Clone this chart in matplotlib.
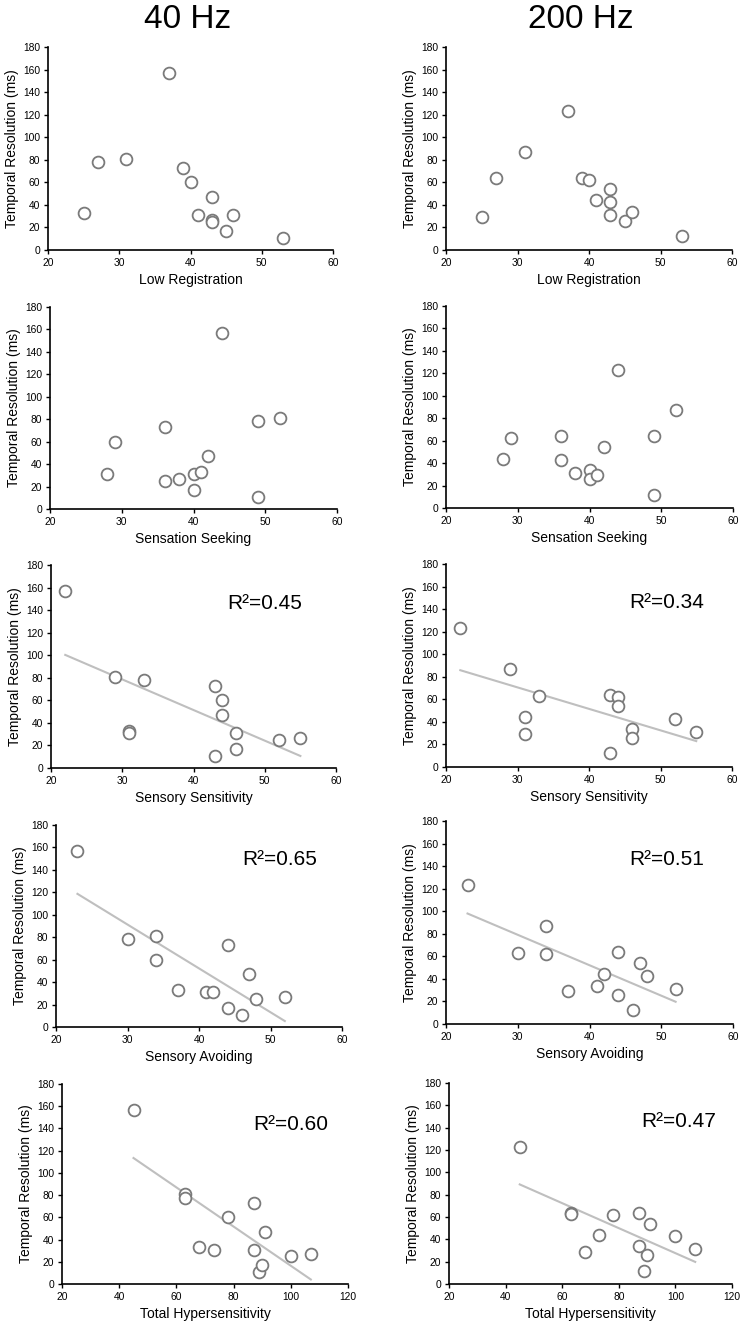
import matplotlib
matplotlib.use("Agg")
import matplotlib.pyplot as plt
import numpy as np

plt.rcParams['font.family'] = ['Liberation Sans', 'DejaVu Sans']

# --- data (x = questionnaire score, y = temporal resolution ms)
lowreg_x   = [25, 27, 31, 37, 39, 40, 41, 43, 43, 43, 45, 46, 53]
lowreg_40  = [33, 78, 81, 157, 73, 60, 31, 47, 27, 25, 17, 31, 11]
lowreg_200 = [29, 64, 87, 123, 64, 62, 44, 54, 43, 31, 26, 34, 12]

seek_x   = [28, 29, 36, 36, 38, 40, 40, 41, 42, 44, 49, 49, 52]
seek_40  = [31, 60, 73, 25, 27, 31, 17, 33, 47, 157, 78, 11, 81]
seek_200 = [44, 62, 64, 43, 31, 34, 26, 29, 54, 123, 64, 12, 87]

sens_x   = [22, 29, 31, 31, 33, 43, 43, 44, 44, 46, 46, 52, 55]
sens_40  = [157, 81, 33, 31, 78, 73, 11, 60, 47, 31, 17, 25, 27]
sens_200 = [123, 87, 44, 29, 63, 64, 12, 62, 54, 34, 26, 43, 31]

avoid_x   = [23, 30, 34, 34, 37, 41, 42, 44, 44, 46, 47, 48, 52]
avoid_40  = [157, 78, 81, 60, 33, 31, 31, 73, 17, 11, 47, 25, 27]
avoid_200 = [123, 63, 87, 62, 29, 34, 44, 64, 26, 12, 54, 43, 31]

hyper_x   = [45, 63, 63, 68, 73, 78, 87, 87, 89, 90, 91, 100, 107]
hyper_40  = [157, 81, 77, 33, 31, 60, 73, 31, 11, 17, 47, 25, 27]
hyper_200 = [123, 64, 63, 29, 44, 62, 64, 34, 12, 26, 54, 43, 31]

row_labels = ['Low Registration', 'Sensation Seeking', 'Sensory Sensitivity',
              'Sensory Avoiding', 'Total Hypersensitivity']
r2_40  = [None, None, '0.45', '0.65', '0.60']
r2_200 = [None, None, '0.34', '0.51', '0.47']

rows = [
    (lowreg_x, lowreg_40, lowreg_200),
    (seek_x, seek_40, seek_200),
    (sens_x, sens_40, sens_200),
    (avoid_x, avoid_40, avoid_200),
    (hyper_x, hyper_40, hyper_200),
]

W, H = 743, 1328
fig = plt.figure(figsize=(W / 100, H / 100), dpi=100)

# axes boxes in pixels: (left, right, top, bottom)
boxes = [
    [(48, 333, 47, 250), (446, 732, 47, 250)],
    [(50, 337, 307, 509), (446, 733, 306, 508)],
    [(51, 336, 565, 768), (446, 732, 564, 767)],
    [(56, 342, 825, 1027), (446, 733, 821, 1024)],
    [(62, 348, 1084, 1284), (449, 732, 1083, 1284)],
]
r2_pos = [
    [None, None],
    [None, None],
    [(0.62, 0.81), (0.64, 0.81)],
    [(0.65, 0.83), (0.64, 0.81)],
    [(0.67, 0.80), (0.68, 0.81)],
]

for i, (x, y40, y200) in enumerate(rows):
    for j, y in enumerate([y40, y200]):
        l, r, t, b = boxes[i][j]
        ax = fig.add_axes([l / W, 1 - b / H, (r - l) / W, (b - t) / H])
        ax.scatter(x, y, s=72, facecolors='white', edgecolors='#7a7a7a',
                   linewidths=1.3, zorder=3, clip_on=False)
        r2 = (r2_40 if j == 0 else r2_200)[i]
        if r2 is not None:
            k, c = np.polyfit(x, y, 1)
            xs = np.array([min(x), max(x)])
            ax.plot(xs, k * xs + c, color='#bfbfbf', lw=1.5, zorder=2)
            px, py = r2_pos[i][j]
            ax.text(px, py, 'R\u00b2=' + r2, transform=ax.transAxes,
                    fontsize=15, va='center', ha='left')
        if i == 4:
            ax.set_xlim(20, 120)
            ax.set_xticks(range(20, 121, 20))
        else:
            ax.set_xlim(20, 60)
            ax.set_xticks(range(20, 61, 10))
        ax.set_ylim(0, 180)
        ax.set_yticks(range(0, 181, 20))
        for s in ['top', 'right']:
            ax.spines[s].set_visible(False)
        for s in ['left', 'bottom']:
            ax.spines[s].set_linewidth(1.2)
        ax.tick_params(direction='out', length=3, width=1, labelsize=7.4, pad=2.5)
        ax.set_xlabel(row_labels[i], fontsize=10, labelpad=4)
        ax.set_ylabel('Temporal Resolution (ms)', fontsize=10, labelpad=3)

fig.text(188 / W, 1 - 19 / H, '40 Hz', fontsize=24, ha='center', va='center')
fig.text(581 / W, 1 - 19 / H, '200 Hz', fontsize=24, ha='center', va='center')

fig.savefig('out.png', dpi=100)
